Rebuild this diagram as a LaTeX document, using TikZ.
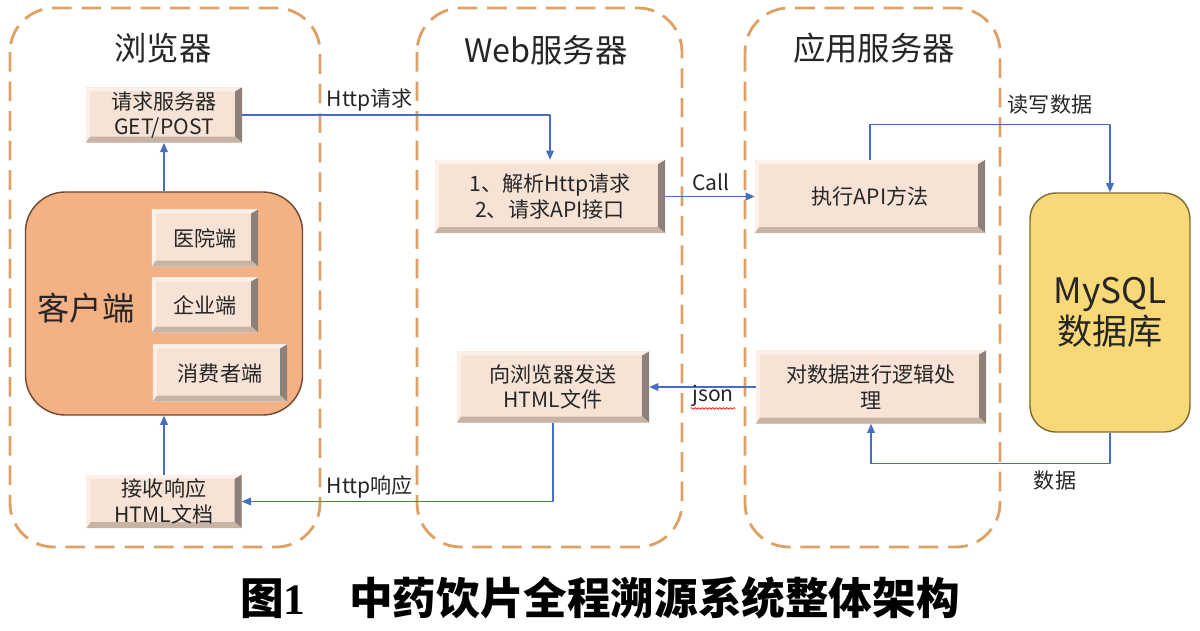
\documentclass[tikz,border=0pt]{standalone}
\usepackage{fontspec}
\setmainfont{Noto Sans CJK SC}
\newfontfamily\capnum{Liberation Serif}
\usetikzlibrary{arrows.meta,decorations.pathmorphing}
\definecolor{dashor}{HTML}{DFA065}
\definecolor{clientfill}{HTML}{F4B183}
\definecolor{clientline}{HTML}{6E4632}
\definecolor{bevelface}{HTML}{F7E3D5}
\definecolor{bevellight}{HTML}{FCF0E8}
\definecolor{bevelright}{HTML}{8C8078}
\definecolor{bevelbottom}{HTML}{C8B4A5}
\definecolor{dbfill}{HTML}{F9D878}
\definecolor{dbline}{HTML}{7D6A32}
\definecolor{linkblue}{HTML}{466EBE}
\definecolor{txt}{HTML}{262626}
\def\pb{path picture bounding box}
\begin{document}
\begin{tikzpicture}[x=0.025cm, y=-0.025cm, line join=round, >={Triangle[length=6.5pt,width=5.5pt]},
	group/.style={draw=dashor, line width=2pt, dash pattern=on 14pt off 7pt, rounded corners=1.1cm},
	title/.style={text=txt, font=\fontsize{23}{26}\selectfont},
	lbl/.style={text=txt, font=\fontsize{15}{18}\selectfont, inner sep=1pt},
	link/.style={draw=linkblue, line width=0.8pt},
	bevelbox/.style={fill=bevelface, text=txt, align=center, inner sep=3pt, font=\fontsize{15}{18}\selectfont,
		path picture={
			\fill[bevellight] (\pb.north west) -- (\pb.north east) -- ([shift={(-0.17cm,-0.1cm)}]\pb.north east)
			-- ([shift={(0.1cm,-0.1cm)}]\pb.north west) -- ([shift={(0.1cm,0.15cm)}]\pb.south west) -- (\pb.south west) -- cycle;
			\fill[bevelright] (\pb.north east) -- (\pb.south east) -- ([shift={(-0.17cm,0.15cm)}]\pb.south east)
			-- ([shift={(-0.17cm,-0.1cm)}]\pb.north east) -- cycle;
			\fill[bevelbottom] (\pb.south west) -- (\pb.south east) -- ([shift={(-0.17cm,0.15cm)}]\pb.south east)
			-- ([shift={(0.1cm,0.15cm)}]\pb.south west) -- cycle;
	}}]
	\useasboundingbox (0,0) rectangle (1200,630);
	% 三个分组
	\draw[group] (10,8) rectangle (320,547);
	\draw[group] (417,8) rectangle (682,547);
	\draw[group] (745,8) rectangle (1000,547);
	\node[title] (tbrowser) at (163,48) {浏览器};
	\node[title] (tweb) at (546,50) {Web服务器};
	\node[title] (tapp) at (874,48) {应用服务器};
	% 浏览器
	\node[fill=clientfill, draw=clientline, line width=1pt, rounded corners=1cm, minimum width=6.925cm, minimum height=5.575cm] (client) at (164,303.5) {};
	\node[text=txt, font=\fontsize{23}{26}\selectfont] (clientlbl) at (86,308) {客户端};
	\node[bevelbox, minimum width=2.65cm, minimum height=1.425cm] (hosp) at (205,238) {医院端};
	\node[bevelbox, minimum width=2.65cm, minimum height=1.375cm] (ent) at (205,305) {企业端};
	\node[bevelbox, minimum width=3.35cm, minimum height=1.425cm] (cons) at (220,373) {消费者端};
	\node[bevelbox, minimum width=3.9cm, minimum height=1.375cm] (req) at (164,115) {请求服务器\\GET/POST};
	\node[bevelbox, minimum width=3.875cm, minimum height=1.325cm] (recv) at (164,501.5) {接收响应\\HTML文档};
	% Web服务器
	\node[bevelbox, minimum width=5.75cm, minimum height=1.825cm] (parse) at (550,196.5) {1、解析Http请求\\2、请求API接口};
	\node[bevelbox, minimum width=4.8cm, minimum height=1.775cm] (send) at (553,387) {向浏览器发送\\HTML文件};
	% 应用服务器
	\node[bevelbox, minimum width=5.75cm, minimum height=1.825cm] (exec) at (870,196.5) {执行API方法};
	\node[bevelbox, minimum width=5.75cm, minimum height=1.825cm] (logic) at (871,387) {对数据进行逻辑处\\理};
	% 数据库
	\node[fill=dbfill, draw=dbline, line width=1pt, rounded corners=0.65cm, minimum width=4cm, minimum height=5.975cm,
		align=center, text=txt, font=\fontsize{25}{29}\selectfont] (db) at (1110,312.5) {MySQL\\数据库};
	% 连线
	\draw[link,->] (client.north) -- (req.south);
	\draw[link,->] (recv.north) -- (client.south);
	\draw[link,->] (req.east) -| (parse.north);
	\draw[link,->] (parse.east) -- (exec.west);
	\draw[link,->] (exec.north) -- ++(0,-35) -| (db.north);
	\draw[link,->] (db.south) -- ++(0,31) -| (logic.south);
	\draw[link,->] (logic.west) -- (send.east);
	\draw[link,->] (send.south) |- (recv.east);
	\node[lbl, anchor=west] (lreq) at (325,100) {Http请求};
	\node[lbl, anchor=west] (lresp) at (325,487) {Http响应};
	\node[lbl] (lcall) at (711,182) {Call};
	\node[lbl] (ljson) at (713,396) {json};
	\draw[red, line width=0.5pt, decorate, decoration={snake, amplitude=0.6pt, segment length=2.5pt}] (ljson.south west) -- (ljson.south east);
	\node[lbl] (lrw) at (1050,105) {读写数据};
	\node[lbl] (ldata) at (1055,480) {数据};
	% 图题
	\node[text=black, font=\fontsize{31}{36}\selectfont\bfseries] (caption) at (600,598) {图{\capnum\bfseries 1}\quad 中药饮片全程溯源系统整体架构};
\end{tikzpicture}
\end{document}
